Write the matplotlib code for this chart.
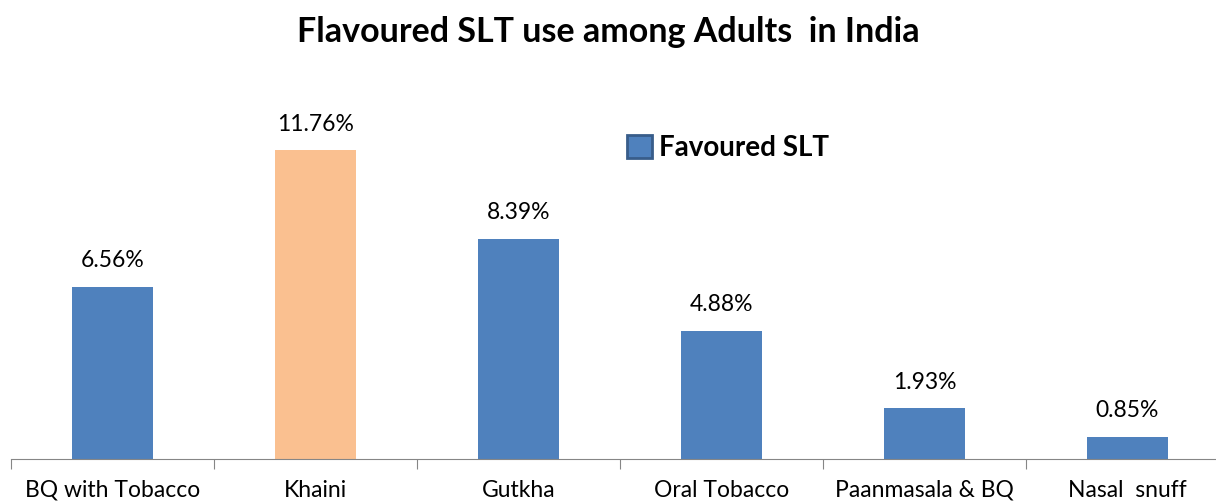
import matplotlib.pyplot as plt
from matplotlib.patches import Patch

plt.rcParams["font.family"] = ["Lato", "DejaVu Sans"]

# Flavoured smokeless tobacco use (%)
categories = ["BQ with Tobacco", "Khaini", "Gutkha", "Oral Tobacco",
              "Paanmasala & BQ", "Nasal  snuff"]
values = [6.56, 11.76, 8.39, 4.88, 1.93, 0.85]
labels = ["6.56%", "11.76%", "8.39%", "4.88%", "1.93%", "0.85%"]

blue = "#4F81BD"
orange = "#FAC090"
colors = [orange if c == "Khaini" else blue for c in categories]

W, H = 1216, 503
fig = plt.figure(figsize=(W / 100, H / 100), dpi=100)

# axes run a little past the right edge of the figure
x0, y_base, y_top = 11, 459, 70
ax = fig.add_axes([x0 / W, (H - y_base) / H, 1218 / W, (y_base - y_top) / H])

px_per_unit = 309 / 11.76
ax.set_ylim(0, (y_base - y_top) / px_per_unit)
ax.set_xlim(-0.5, len(categories) - 0.5)

x = range(len(categories))
ax.bar(x, values, width=0.4, color=colors)

for xi, v, lab in zip(x, values, labels):
    ax.annotate(lab, (xi, v), xytext=(0, 11), textcoords="offset points",
                ha="center", va="bottom", fontsize=16.5)

for s in ["top", "right", "left"]:
    ax.spines[s].set_visible(False)
ax.spines["bottom"].set_color("#868686")
ax.set_yticks([])

ax.set_xticks([i - 0.5 for i in range(len(categories) + 1)], minor=False)
ax.set_xticklabels([])
ax.tick_params(axis="x", length=7, color="#868686", direction="out")
ax.set_xticks(list(x), minor=True)
ax.set_xticklabels(categories, minor=True, fontsize=16.5)
ax.tick_params(axis="x", which="minor", length=0, pad=15)

fig.text(0.5, 1 - 32 / H, "Flavoured SLT use among Adults  in India",
         ha="center", va="center", fontsize=24.5, fontweight="bold")

handle = Patch(facecolor=blue, edgecolor="#385D8A", linewidth=2,
               label="Favoured SLT")
fig.legend(handles=[handle], loc="center left",
           bbox_to_anchor=(602 / W, 1 - 148 / H), frameon=False,
           prop={"size": 20, "weight": "bold"}, handlelength=0.9,
           handleheight=0.9, handletextpad=0.25)

fig.savefig("out.png", dpi=100)
